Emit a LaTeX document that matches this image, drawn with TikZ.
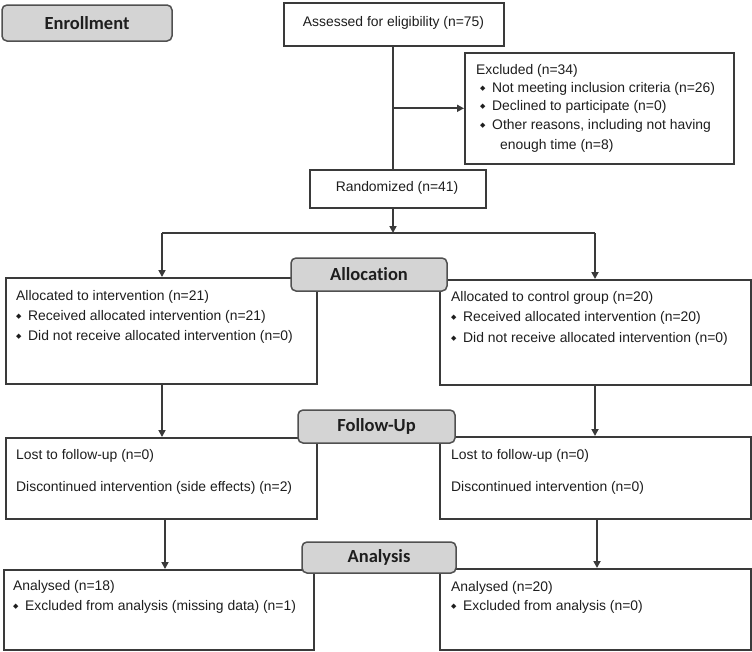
\documentclass[tikz,border=0pt]{standalone}
\usepackage{fontspec}
\usepackage{graphicx}
\setmainfont{Liberation Sans}
\newfontfamily\hdrfont[Ligatures={NoCommon,NoRequired,NoContextual}]{Carlito}
\newfontfamily\dejavu{DejaVu Sans}
\usetikzlibrary{arrows.meta}
\definecolor{bordc}{HTML}{3A3A3A}
\definecolor{hdrbord}{HTML}{505050}
\definecolor{hdrfill}{HTML}{D4D4D4}
\definecolor{txtc}{HTML}{1E1E1E}
\newcommand\bul{\raisebox{0.3ex}{\scalebox{0.5}{\dejavu ◆}}}
\newcommand\bitem{\makebox[12pt][l]{\bul}}
\begin{document}
\begin{tikzpicture}[x=1pt,y=-1pt,
 box/.style={draw=bordc,line width=1.6pt,fill=white,anchor=north west,inner sep=0pt},
 hdr/.style={draw=hdrbord,line width=1.5pt,fill=hdrfill,rounded corners=5pt,inner sep=0pt,
   font=\fontsize{18.5}{20}\selectfont\hdrfont\bfseries,text=txtc},
 txt/.style={anchor=west,inner sep=0pt,font=\fontsize{13.9}{16}\selectfont,text=txtc},
 ctxt/.style={inner sep=0pt,font=\fontsize{13.9}{16}\selectfont,text=txtc},
 arr/.style={draw=bordc,line width=1.7pt,-{Triangle[length=7pt,width=7pt]}},
 ln/.style={draw=bordc,line width=1.7pt}]
\useasboundingbox[fill=white] (0,0) rectangle (752,651);

% main boxes
\node[box,minimum width=220pt,minimum height=43pt] (assess) at (283,2) {};
\node[box,minimum width=269pt,minimum height=111pt] (excl) at (464,52) {};
\node[box,minimum width=176pt,minimum height=38pt] (rand) at (309,169) {};
\node[box,minimum width=311pt,minimum height=106pt] (allocL) at (5,277) {};
\node[box,minimum width=311pt,minimum height=105pt] (allocR) at (439,279) {};
\node[box,minimum width=311pt,minimum height=81pt] (fuL) at (5,437) {};
\node[box,minimum width=311pt,minimum height=82pt] (fuR) at (439,436) {};
\node[box,minimum width=310pt,minimum height=80pt] (anL) at (3,569) {};
\node[box,minimum width=311pt,minimum height=81pt] (anR) at (439,568) {};

% texts
\node[ctxt] (assesst) at (393.5,23) {Assessed for eligibility (n=75)};
\node[ctxt] (randt) at (397,188) {Randomized (n=41)};

\node[txt] (ex1) at (476,71) {Excluded (n=34)};
\node[txt] (ex2) at (480,89) {\bitem Not meeting inclusion criteria (n=26)};
\node[txt] (ex3) at (480,107) {\bitem Declined to participate (n=0)};
\node[txt] (ex4) at (480,126) {\bitem Other reasons, including not having};
\node[txt] (ex5) at (500,146) {enough time (n=8)};

\node[txt] (al1) at (16,297) {Allocated to intervention (n=21)};
\node[txt] (al2) at (16,317) {\bitem Received allocated intervention (n=21)};
\node[txt] (al3) at (16,337) {\bitem Did not receive allocated intervention (n=0)};

\node[txt] (ar1) at (451,298) {Allocated to control group (n=20)};
\node[txt] (ar2) at (451,318) {\bitem Received allocated intervention (n=20)};
\node[txt] (ar3) at (451,339) {\bitem Did not receive allocated intervention (n=0)};

\node[txt] (fl1) at (16,456) {Lost to follow-up (n=0)};
\node[txt] (fl2) at (16,488) {Discontinued intervention (side effects) (n=2)};
\node[txt] (fr1) at (451,456) {Lost to follow-up (n=0)};
\node[txt] (fr2) at (451,488) {Discontinued intervention (n=0)};

\node[txt] (nl1) at (13,587) {Analysed (n=18)};
\node[txt] (nl2) at (13,607) {\bitem Excluded from analysis (missing data) (n=1)};
\node[txt] (nr1) at (451,588) {Analysed (n=20)};
\node[txt] (nr2) at (451,607) {\bitem Excluded from analysis (n=0)};

% connectors
\coordinate (split) at (393,233);
\coordinate (splitL) at (162,233);
\coordinate (splitR) at (595,233);
\draw[ln] (assess.south -| split) -- (rand.north -| split);
\draw[arr] (excl.west -| split) -- (excl.west);
\draw[arr] (rand.south -| split) -- (split);
\draw[ln] (splitL) -- (splitR);
\draw[arr] (splitL) -- (splitL |- allocL.north);
\draw[arr] (splitR) -- (splitR |- allocR.north);
\draw[arr] (allocL.south -| splitL) -- (splitL |- fuL.north);
\draw[arr] (allocR.south -| splitR) -- (splitR |- fuR.north);
\coordinate (colL) at (165,518);
\coordinate (colR) at (597,518);
\draw[arr] (fuL.south -| colL) -- (colL |- anL.north);
\draw[arr] (fuR.south -| colR) -- (colR |- anR.north);

% stage headers
\node[hdr,minimum width=170pt,minimum height=36pt] (enroll) at (87,23) {Enrollment};
\node[hdr,minimum width=156pt,minimum height=33pt] (alloc) at (369,274.5) {Allocation};
\node[hdr,minimum width=157pt,minimum height=33pt] (follow) at (376.5,426.5) {Follow-Up};
\node[hdr,minimum width=154pt,minimum height=31pt] (analysis) at (379,557.5) {Analysis};
\end{tikzpicture}
\end{document}
